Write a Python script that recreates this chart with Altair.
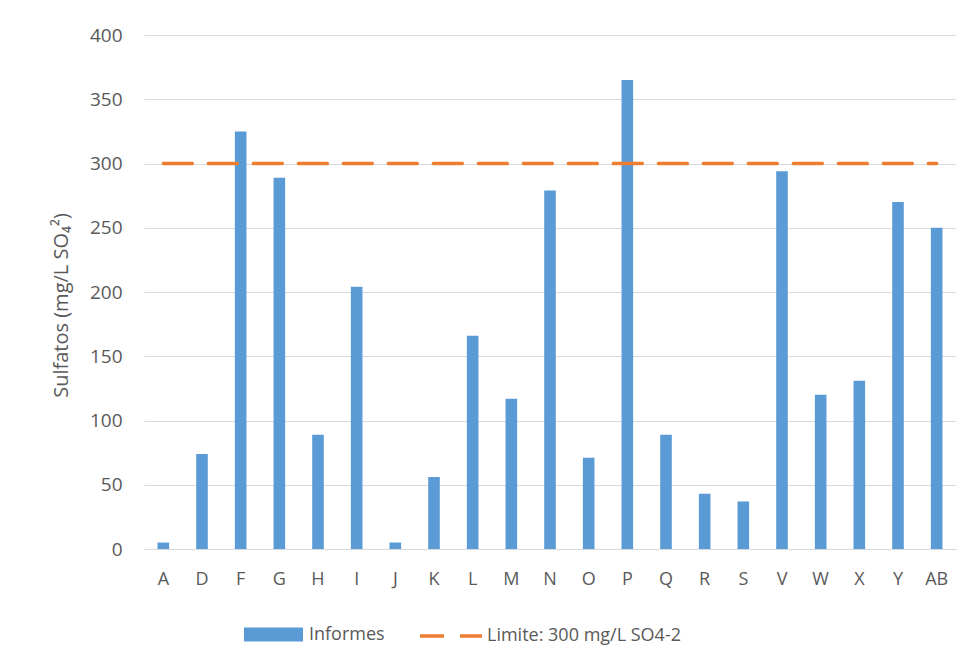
import altair as alt
import pandas as pd

categorias = ["A", "D", "F", "G", "H", "I", "J", "K", "L", "M", "N",
              "O", "P", "Q", "R", "S", "V", "W", "X", "Y", "AB"]
informes = [5, 74, 325, 289, 89, 204, 5, 56, 166, 117, 279,
            71, 365, 89, 43, 37, 294, 120, 131, 270, 250]
limite = [300, 300, 300, 300, 300, 300, 300, 300, 300, 300, 300,
          300, 300, 300, 300, 300, 300, 300, 300, 300, 300]

serie_barras = "Informes"
serie_linea = "Limite: 300 mg/L SO4-2"

df_bar = pd.DataFrame({"cat": categorias, "valor": informes, "serie": serie_barras})
df_line = pd.DataFrame({"cat": categorias, "valor": limite, "serie": serie_linea})

FONT = "Open Sans"
TXT = "#595959"
GRID = "#D9D9D9"
BLUE = "#5B9BD5"
ORANGE = "#ED7D31"

x_enc = alt.X(
    "cat:N",
    sort=categorias,
    title=None,
    scale=alt.Scale(paddingInner=0.7, paddingOuter=0.35),
    axis=alt.Axis(labelAngle=0, ticks=False, domain=True, domainColor=GRID,
                  labelPadding=21, labelFontSize=18, labelColor=TXT, labelFont=FONT),
)

bars = alt.Chart(df_bar).mark_bar(color=BLUE).encode(
    x=x_enc,
    y=alt.Y(
        "valor:Q",
        scale=alt.Scale(domain=[0, 400], nice=False),
        axis=alt.Axis(
            values=[0, 50, 100, 150, 200, 250, 300, 350, 400],
            title="Sulfatos (mg/L SO₄²)",
            titleFont=FONT, titleFontSize=20, titleFontWeight="normal", titleColor=TXT,
            titleX=-77, titleY=270, titleAlign="center", titleBaseline="alphabetic",
            labelFont=FONT, labelFontSize=19, labelColor=TXT, labelPadding=22,
            ticks=False, domain=False, grid=True, gridColor=GRID, gridWidth=1,
        ),
    ),
    color=alt.Color(
        "serie:N",
        scale=alt.Scale(domain=[serie_barras], range=[BLUE]),
        legend=alt.Legend(
            title=None, orient="none", legendX=100, legendY=570,
            symbolType="M-1,-0.237H1V0.237H-1Z", symbolSize=3481,
            symbolStrokeWidth=0, labelOffset=6, labelLimit=400,
            labelFont=FONT, labelFontSize=18, labelColor=TXT,
        ),
    ),
)

line = alt.Chart(df_line).mark_line(
    strokeWidth=3.5, strokeDash=[29, 16], strokeCap="round"
).encode(
    x=alt.X("cat:N", sort=categorias),
    y=alt.Y("valor:Q"),
    color=alt.Color(
        "serie:N",
        scale=alt.Scale(domain=[serie_linea], range=[ORANGE]),
        legend=alt.Legend(
            title=None, orient="none", legendX=274, legendY=568,
            symbolType="stroke", symbolSize=3844, symbolStrokeWidth=3.5,
            symbolDash=[24, 16], labelOffset=3, labelLimit=400,
            labelFont=FONT, labelFontSize=18, labelColor=TXT,
        ),
    ),
)

chart = alt.layer(bars, line).resolve_scale(color="independent").properties(
    width=812,
    height=514,
    autosize=alt.AutoSizeParams(type="none"),
    padding={"left": 136, "top": 27, "right": 10, "bottom": 110},
).configure(background="white").configure_view(stroke=None)

chart.save("out.html", embed_options={"renderer": "svg", "actions": False})
